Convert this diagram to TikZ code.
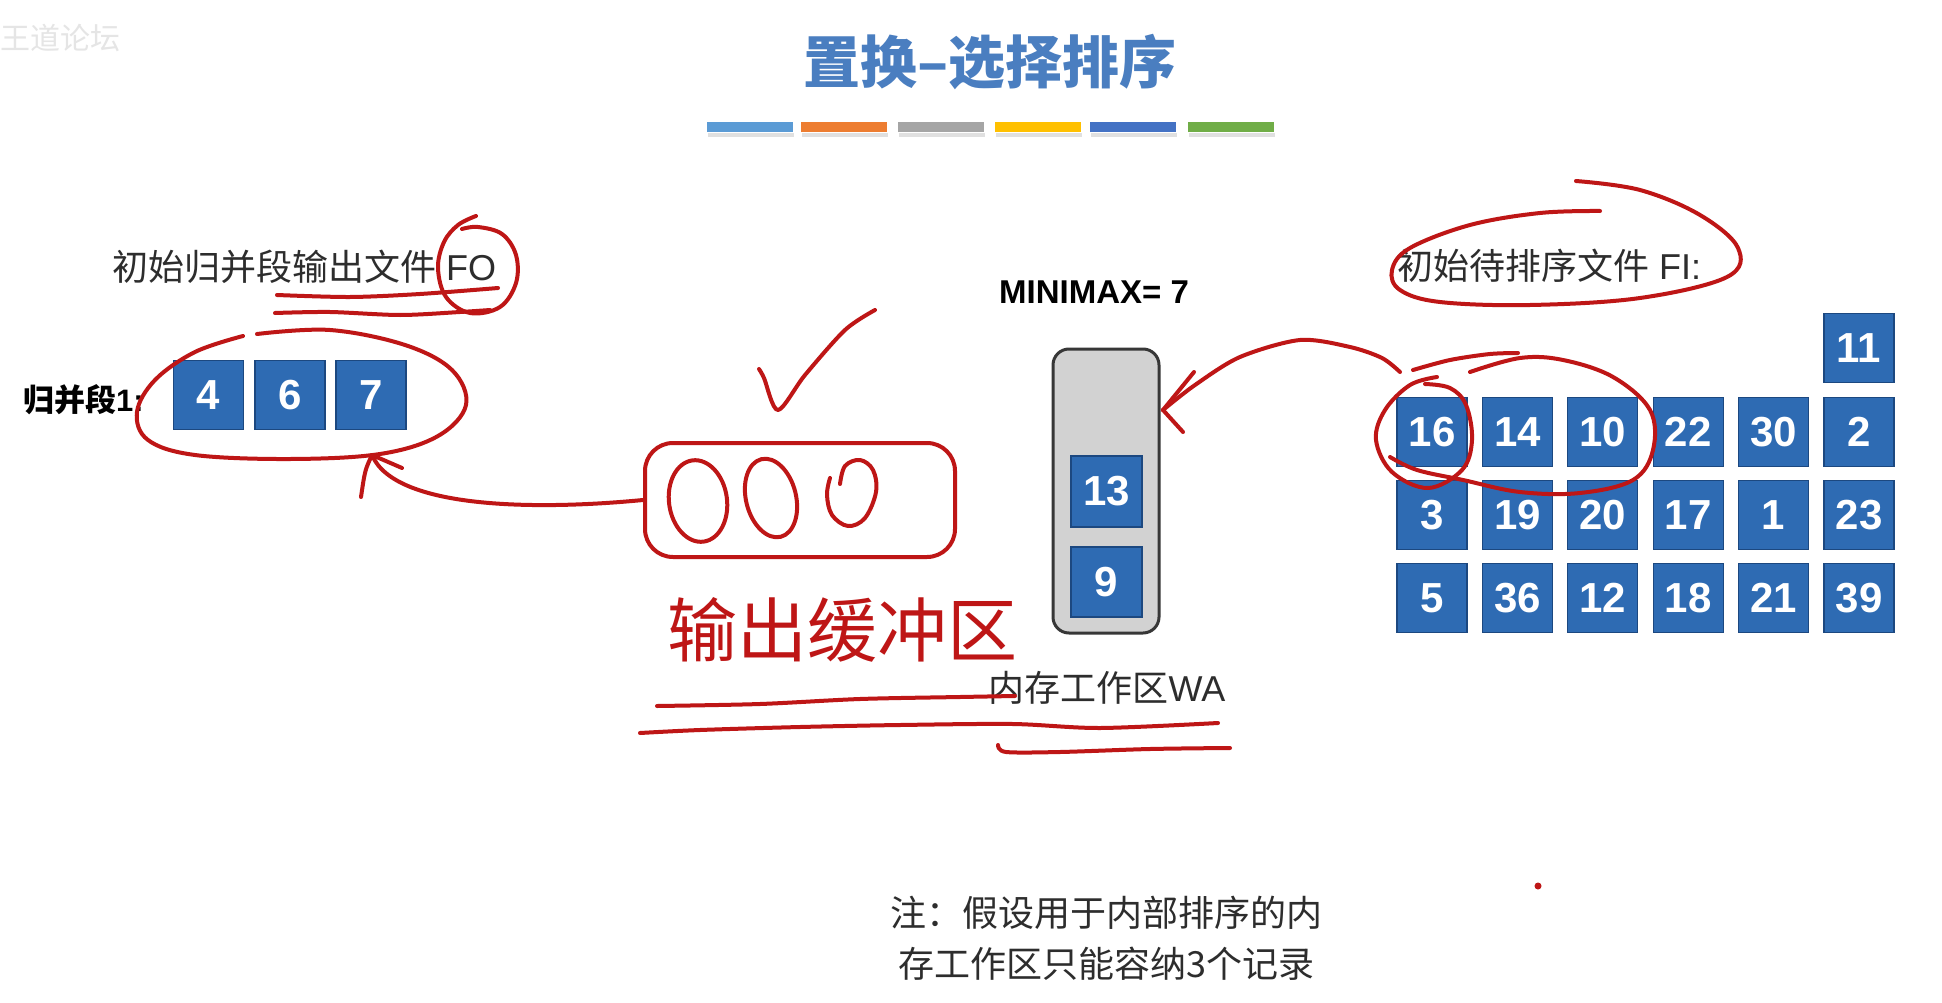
\documentclass[tikz,border=0pt]{standalone}
\usepackage{fontspec}
\setmainfont{Liberation Sans}
\newfontfamily\cjk{Noto Sans CJK SC}
\definecolor{boxblue}{RGB}{46,107,179}
\definecolor{boxedge}{RGB}{28,72,128}
\definecolor{titleblue}{RGB}{74,126,192}
\definecolor{pen}{RGB}{190,22,22}
\definecolor{waFill}{RGB}{210,210,210}
\definecolor{waEdge}{RGB}{55,55,55}
\definecolor{txt}{RGB}{45,45,45}
\definecolor{barA}{RGB}{91,155,213}
\definecolor{barB}{RGB}{237,125,49}
\definecolor{barC}{RGB}{165,165,165}
\definecolor{barD}{RGB}{255,192,0}
\definecolor{barE}{RGB}{68,114,196}
\definecolor{barF}{RGB}{112,173,71}
\tikzset{
  nbox/.style={draw=boxedge, fill=boxblue, line width=1.2pt, minimum width=70pt,
    minimum height=69pt, inner sep=0pt, text=white,
    font=\fontsize{42}{42}\selectfont\bfseries},
  lbl/.style={inner sep=0pt, text=txt, font=\fontsize{36}{40}\selectfont},
  redpen/.style={draw=pen, line width=4pt, line cap=round, line join=round},
  colorbar/.style={inner sep=0pt, minimum width=86pt, minimum height=10pt},
}
\begin{document}
\begin{tikzpicture}[x=1pt,y=-1pt]
\useasboundingbox (0,0) rectangle (1942,1003);
\fill[white] (0,0) rectangle (1942,1003);

% watermark
\node[inner sep=0pt, text=black!10, font=\cjk\fontsize{30}{30}\selectfont, anchor=west] (wm) at (0,38) {王道论坛};

% title
\node[inner sep=0pt, text=titleblue, font=\cjk\fontsize{57}{57}\selectfont\bfseries] (title) at (990,62) {置换–选择排序};

% colour bars
\foreach \c/\x [count=\i] in {barA/750, barB/844, barC/941, barD/1038, barE/1133, barF/1231} {
  \fill[black!12] (\x-42,133) rectangle (\x+44,137);
  \node[colorbar, fill=\c] (bar\i) at (\x,127) {};
}

% left: output file
\node[lbl, anchor=west] (fo) at (112,267) {{\cjk 初始归并段输出文件} FO};
\node[inner sep=0pt, text=black, font=\fontsize{31}{31}\selectfont\bfseries, anchor=west] (seg) at (23,400) {{\cjk\bfseries 归并段}1:};
\node[nbox] (s1) at (208.5,395) {4};
\node[nbox] (s2) at (290,395) {6};
\node[nbox] (s3) at (371,395) {7};

% middle: work area
\node[inner sep=0pt, text=black, font=\fontsize{33}{33}\selectfont\bfseries] (mm) at (1094,292) {MINIMAX= 7};
\node[draw=waEdge, fill=waFill, line width=3pt, rounded corners=16pt, minimum width=106pt, minimum height=284pt] (wa) at (1106,491) {};
\node[nbox, minimum width=71pt, minimum height=71pt] (w1) at (1106.5,491.5) {13};
\node[nbox, minimum width=71pt, minimum height=70pt] (w2) at (1106.5,582) {9};
\node[lbl] (walbl) at (1107,688) {{\cjk 内存工作区}WA};

% right: input file
\node[lbl, anchor=west] (fi) at (1397,266) {{\cjk 初始待排序文件} FI:};
\node[nbox] (g0) at (1859,348) {11};
\foreach \v [count=\c] in {16,14,10,22,30,2}
  \node[nbox] (ga\c) at ({1432+85.4*(\c-1)},432) {\v};
\foreach \v [count=\c] in {3,19,20,17,1,23}
  \node[nbox] (gb\c) at ({1432+85.4*(\c-1)},515) {\v};
\foreach \v [count=\c] in {5,36,12,18,21,39}
  \node[nbox] (gc\c) at ({1432+85.4*(\c-1)},598) {\v};

% note
\node[inner sep=0pt, text=txt, font=\cjk\fontsize{36}{51}\selectfont, align=center] (note) at (1106,938) {注：假设用于内部排序的内\\存工作区只能容纳3个记录};

% ---------- red annotations ----------
% FO circle and underlines
\draw[redpen] plot[smooth, tension=0.6] coordinates {(476,216) (458,225) (444,242) (438,268) (446,297) (470,313) (500,307) (516,283) (516,255) (502,234) (478,227) (462,229)};
\draw[redpen] plot[smooth] coordinates {(277,295) (350,297) (420,294) (498,288)};
\draw[redpen] plot[smooth] coordinates {(275,313) (330,312) (400,315) (460,312) (490,310)};
% ellipse around run 1
\draw[redpen] plot[smooth, tension=0.6] coordinates {(243,336) (195,352) (155,380) (137,412) (148,440) (195,455) (290,459) (380,454) (438,436) (466,405) (452,370) (405,345) (330,330) (257,334)};

% output buffer
\node[draw=pen, line width=4pt, rounded corners=28pt, minimum width=310pt, minimum height=114pt] (buf) at (800,500) {};
\draw[redpen, rotate around={8:(698,501)}] (698,501) ellipse [x radius=29pt, y radius=41pt];
\draw[redpen, rotate around={14:(771,498)}] (771,498) ellipse [x radius=25pt, y radius=40pt];
\draw[redpen] plot[smooth, tension=0.6] coordinates {(840,484) (845,466) (860,460) (873,470) (876,492) (865,518) (848,526) (832,515) (827,495) (830,478)};
\draw[redpen] plot[smooth, tension=0.5] coordinates {(759,369) (764,378) (778,410) (805,375) (845,330) (875,310)};
\node[inner sep=0pt, text=pen, font=\cjk\fontsize{70}{70}\selectfont] (hw) at (842,630) {输出缓冲区};

% arrow buffer -> run 1
\coordinate (tipA) at (372,455);
\draw[redpen] (buf.west) .. controls (540,510) and (395,510) .. (tipA);
\draw[redpen] (tipA) -- (402,468);
\draw[redpen] (tipA) .. controls (365,470) .. (361,497);

% underlines
\draw[redpen] plot[smooth] coordinates {(657,706) (760,704) (860,699) (960,697) (1015,696)};
\draw[redpen] plot[smooth] coordinates {(640,733) (700,730) (800,727) (900,725) (1013,724) (1100,728) (1218,723)};
\draw[redpen] plot[smooth] coordinates {(998,745) (1006,752) (1060,752) (1150,749) (1230,748)};

% FI ellipse
\draw[redpen] plot[smooth, tension=0.6] coordinates {(1576,181) (1640,190) (1700,215) (1738,248) (1727,277) (1640,298) (1530,305) (1440,302) (1400,290) (1392,270) (1410,248) (1470,225) (1540,213) (1600,211)};

% circles around 16 and 16 14 10
\draw[redpen] plot[smooth, tension=0.6] coordinates {(1437,377) (1410,385) (1385,410) (1376,440) (1392,472) (1428,488) (1462,470) (1472,440) (1466,405) (1450,388) (1425,384)};
\draw[redpen] plot[smooth, tension=0.6] coordinates {(1470,372) (1520,358) (1563,360) (1613,377) (1650,410) (1653,450) (1633,480) (1580,493) (1520,492) (1463,480) (1417,470) (1390,457)};
\draw[redpen] plot[smooth] coordinates {(1413,370) (1450,360) (1490,354) (1518,353)};

% arrow input -> work area
\coordinate (tipB) at (1163,410);
\draw[redpen] plot[smooth] coordinates {(1400,372) (1382,358) (1350,347) (1300,340) (1240,357) (1195,385) (tipB)};
\draw[redpen] (tipB) -- (1194,372);
\draw[redpen] (tipB) -- (1183,432);

% dot
\fill[pen] (1538,886) circle[radius=3.5pt];
\end{tikzpicture}
\end{document}
